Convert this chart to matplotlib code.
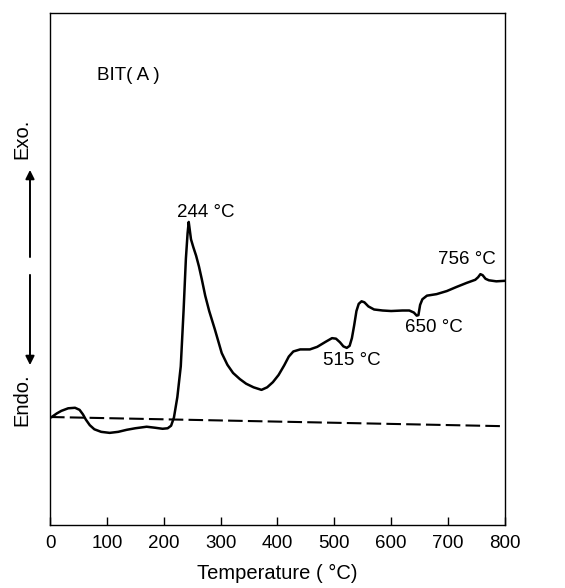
import numpy as np
import matplotlib
matplotlib.use("Agg")
from matplotlib import pyplot as plt

plt.rcParams['font.family'] = ['Liberation Sans', 'DejaVu Sans']

# DTA curve (temperature in C, signal in arbitrary units 0..100)
temp = [3, 12, 20, 32, 44, 52, 58, 63, 70, 78, 90, 105, 120, 135, 150, 170, 185,
        198, 207, 213, 218, 224, 230, 235, 239, 242, 244, 246, 248, 252, 257, 262,
        267, 273, 280, 290, 302, 312, 322, 334, 345, 358, 372, 382, 392, 402, 412,
        420, 428, 440, 457, 470, 485, 496, 503, 510, 516, 522, 527, 531, 535, 539,
        543, 548, 553, 560, 570, 585, 600, 620, 632, 640, 645, 648, 651, 655, 663,
        680, 698, 715, 733, 748, 753, 757, 761, 766, 772, 785, 800]
signal = [21.1, 21.8, 22.3, 22.8, 22.9, 22.5, 21.6, 20.6, 19.5, 18.7, 18.2, 18.0,
          18.2, 18.6, 18.9, 19.2, 19.0, 18.8, 18.9, 19.4, 21.0, 25.0, 31.0, 42.0,
          52.0, 57.0, 59.2, 57.5, 55.8, 54.3, 52.6, 50.5, 48.0, 44.8, 41.8, 38.2,
          33.6, 31.3, 29.7, 28.5, 27.6, 26.9, 26.4, 26.9, 27.9, 29.3, 31.2, 32.9,
          33.9, 34.3, 34.3, 34.8, 35.8, 36.5, 36.4, 35.7, 34.9, 34.6, 35.0, 36.5,
          39.0, 41.8, 43.2, 43.7, 43.5, 42.7, 42.1, 41.9, 41.8, 41.9, 41.9, 41.5,
          40.9, 41.0, 43.0, 44.1, 44.8, 45.1, 45.7, 46.5, 47.3, 47.9, 48.4, 49.0,
          48.8, 48.1, 47.8, 47.6, 47.7]

base_t = [0, 800]
base_y = [21.1, 19.3]

peaks = [("244 °C", 223, 61.1), ("515 °C", 480, 32.2),
         ("650 °C", 624, 38.5), ("756 °C", 682, 51.8)]

fig = plt.figure(figsize=(5.65, 5.88), dpi=100)
ax = fig.add_axes([0.0885, 0.1071, 0.805, 0.8707])

ax.plot(temp, signal, color='black', lw=1.8, solid_joinstyle='round')
ax.plot(base_t, base_y, color='black', lw=1.5, dashes=(7, 2.5))

for lab, x, y in peaks:
    ax.text(x, y, lab, ha='left', va='center', fontsize=13.5)
ax.text(83, 87.9, "BIT( A )", ha='left', va='center', fontsize=13.5)

ax.set_xlim(0, 800)
ax.set_ylim(0, 100)
ax.set_xticks(np.arange(0, 801, 100))
ax.set_yticks([])
ax.tick_params(axis='x', direction='in', length=6, width=1, labelsize=13.5, pad=7)
for s in ax.spines.values():
    s.set_linewidth(1.0)
ax.set_xlabel("Temperature ( °C)", fontsize=14.5, labelpad=9)

# Exo / Endo arrows on the left
ax.annotate("", xy=(-0.044, 0.699), xytext=(-0.044, 0.518), xycoords='axes fraction',
            arrowprops=dict(arrowstyle='-|>', color='black', lw=1.4, mutation_scale=13),
            annotation_clip=False)
ax.annotate("", xy=(-0.044, 0.307), xytext=(-0.044, 0.494), xycoords='axes fraction',
            arrowprops=dict(arrowstyle='-|>', color='black', lw=1.4, mutation_scale=13),
            annotation_clip=False)
ax.text(-0.0615, 0.754, "Exo.", rotation=90, ha='center', va='center',
        fontsize=14.5, transform=ax.transAxes)
ax.text(-0.0615, 0.244, "Endo.", rotation=90, ha='center', va='center',
        fontsize=14.5, transform=ax.transAxes)

fig.savefig("out.png", dpi=100)
